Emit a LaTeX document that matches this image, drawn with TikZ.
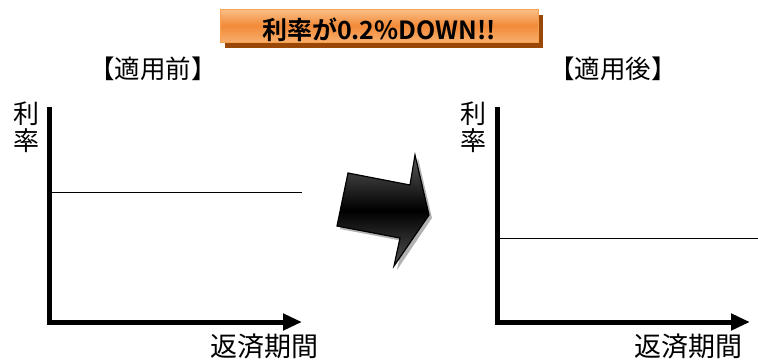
\documentclass[tikz,border=0pt]{standalone}
\usepackage{fontspec}
\newfontfamily\jp{Noto Sans CJK JP}
\newfontfamily\jpb{Noto Sans CJK JP Bold}
\usetikzlibrary{arrows.meta}
\definecolor{banA}{HTML}{FAC08A}
\definecolor{banB}{HTML}{F28A38}
\definecolor{banC}{HTML}{F8AE6C}
\definecolor{banEdge}{HTML}{F7A04E}
\definecolor{banShadow}{HTML}{9A4808}
\tikzset{
  axis/.style={line width=5pt},
  axisarrow/.style={line width=5pt,-{Triangle[length=19pt,width=16pt]}},
  rateline/.style={line width=1pt},
  lbl/.style={font=\jp\fontsize{27}{30}\selectfont,inner sep=0pt,text=black},
  vlbl/.style={font=\jp\fontsize{26}{27}\selectfont,inner sep=0pt,align=center},
  title/.style={font=\jp\fontsize{25.5}{27}\selectfont,inner sep=0pt},
}
\begin{document}
\begin{tikzpicture}[x=1pt,y=-1pt]
\useasboundingbox (0,0) rectangle (758,360);
% banner
\fill[banShadow] (225,15) rectangle (543,48);
\shade[top color=banA,bottom color=banC,middle color=banB,draw=banEdge,line width=1pt] (220,9) rectangle (538,42);
\node[font=\jpb\fontsize{25}{27}\selectfont,inner sep=0pt] (ban) at (379,30) {利率が0.2\%DOWN!!};
% left chart
\node[title] (t1) at (153,69) {【適用前】};
\coordinate (o1) at (49,322);
\coordinate (ytop1) at (49,107);
\coordinate (xend1) at (302,322);
\draw[axis] (ytop1) -- ([yshift=2.5pt]o1);
\draw[axisarrow] ([xshift=-2.5pt]o1) -- (xend1);
\coordinate (r1a) at (51,192);
\coordinate (r1b) at (302,192);
\draw[rateline] (r1a) -- (r1b);
\node[vlbl] (y1) at (26,127) {利\\率};
\node[lbl] (x1) at (264,346) {返済期間};
% right chart
\node[title] (t2) at (613,69) {【適用後】};
\coordinate (o2) at (497,322);
\coordinate (ytop2) at (497,107);
\coordinate (xend2) at (750,322);
\draw[axis] (ytop2) -- ([yshift=2.5pt]o2);
\draw[axisarrow] ([xshift=-2.5pt]o2) -- (xend2);
\coordinate (r2a) at (499,238);
\coordinate (r2b) at (758,238);
\draw[rateline] (r2a) -- (r2b);
\node[vlbl] (y2) at (473,127) {利\\率};
\node[lbl] (x2) at (688,346) {返済期間};
% big arrow
\fill[gray!60] (351,176) -- (413,188) -- (418,158) -- (432,218) -- (397,270) -- (403,241) -- (340,229) -- cycle;
\shade[top color=gray!70!black,bottom color=gray!65!black,middle color=black,draw=black,line width=1.2pt] (348,173) -- (410,185) -- (415,155) -- (429,215) -- (394,266) -- (400,238) -- (337,226) -- cycle;
\end{tikzpicture}
\end{document}
